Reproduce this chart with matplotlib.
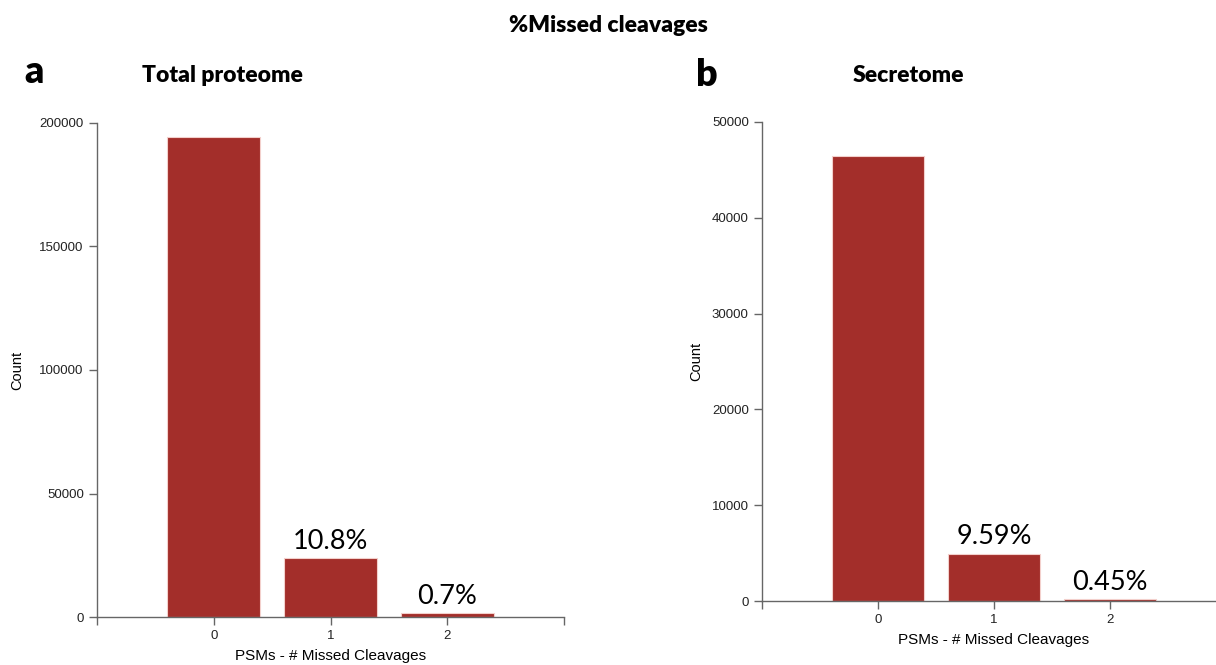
import matplotlib
matplotlib.use('Agg')
import matplotlib.pyplot as plt
import numpy as np

# missed cleavage counts per PSM
missed = [0, 1, 2]
total_counts = [194400, 23700, 1540]
total_pct = ['', '10.8%', '0.7%']
secretome_counts = [46470, 4950, 232]
secretome_pct = ['', '9.59%', '0.45%']

bar_color = '#a32e2a'
axis_color = '#666666'
tick_font = 'Liberation Sans'
head_font = 'Lato'

W, H = 1216, 665
fig = plt.figure(figsize=(W / 100, H / 100), dpi=100)


def px_axes(x0, y0, x1, y1):
    return fig.add_axes([x0 / W, 1 - y1 / H, (x1 - x0) / W, (y1 - y0) / H])


def draw_panel(ax, counts, pct, ymax, yticks, ypad):
    ax.bar(missed, counts, width=0.8, color=bar_color, edgecolor='#f3d0cc', linewidth=0.8)
    for x, c, p in zip(missed, counts, pct):
        if p:
            ax.annotate(p, (x, c), xytext=(0, 3), textcoords='offset points',
                        ha='center', va='bottom', fontsize=19.5, family=head_font)
    ax.set_xlim(-1, 3)
    ax.set_ylim(0, ymax)
    ax.set_xticks(missed)
    ax.set_xticks([-1, 3], minor=True)
    ax.set_yticks(yticks)
    for s in ['top', 'right']:
        ax.spines[s].set_visible(False)
    for s in ['left', 'bottom']:
        ax.spines[s].set_color(axis_color)
        ax.spines[s].set_linewidth(1.0)
    ax.tick_params(which='both', colors=axis_color, length=6, width=1.0, labelcolor='#222222')
    for lab in ax.get_xticklabels() + ax.get_yticklabels():
        lab.set_family(tick_font)
        lab.set_fontsize(9.5)
    ax.set_ylabel('Count', family=tick_font, fontsize=10.5, labelpad=ypad)
    ax.set_xlabel('PSMs - # Missed Cleavages', family=tick_font, fontsize=11, labelpad=5)


ax1 = px_axes(97, 123, 564, 617)
draw_panel(ax1, total_counts, total_pct, 200000, [0, 50000, 100000, 150000, 200000], 11)

ax2 = px_axes(762, 122, 1226, 601)
draw_panel(ax2, secretome_counts, secretome_pct, 50000, [0, 10000, 20000, 30000, 40000, 50000], 6)

fig.text(608 / W, 1 - 25 / H, '%Missed cleavages', ha='center', va='center',
         fontsize=16.5, fontweight='heavy', family=head_font)
fig.text(24 / W, 1 - 72 / H, 'a', ha='left', va='center', fontsize=27,
         fontweight='heavy', family=head_font)
fig.text(222 / W, 1 - 75 / H, 'Total proteome', ha='center', va='center',
         fontsize=16.5, fontweight='heavy', family=head_font)
fig.text(696 / W, 1 - 75 / H, 'b', ha='left', va='center', fontsize=27,
         fontweight='heavy', family=head_font)
fig.text(908 / W, 1 - 75 / H, 'Secretome', ha='center', va='center',
         fontsize=16.5, fontweight='heavy', family=head_font)

fig.savefig('out.png', dpi=100)
